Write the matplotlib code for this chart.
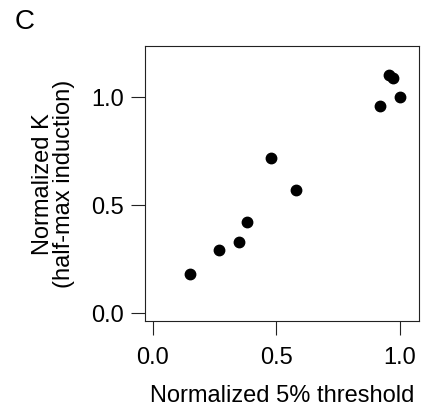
import matplotlib
matplotlib.use("Agg")
import matplotlib.pyplot as plt

# normalized 5% threshold vs normalized K
thresh = [0.150, 0.270, 0.351, 0.380, 0.480, 0.580, 0.920, 0.958, 0.972, 1.001]
norm_k = [0.179, 0.290, 0.330, 0.419, 0.718, 0.569, 0.958, 1.099, 1.088, 0.999]
ticks = [0.0, 0.5, 1.0]
tick_labels = ["0.0", "0.5", "1.0"]

plt.rcParams["font.family"] = ["Liberation Sans", "DejaVu Sans"]

fig = plt.figure(figsize=(4.3, 4.1), dpi=100)
ax = fig.add_axes([145 / 430, 1 - 321.7 / 410, (418.7 - 145) / 430, (321.7 - 46.7) / 410])

ax.plot(thresh, norm_k, "o", color="black", ms=7.5, mec="black")

ax.set_xlim(-0.031, 1.077)
ax.set_ylim(-0.036, 1.236)
ax.set_xticks(ticks)
ax.set_xticklabels(tick_labels)
ax.set_yticks(ticks)
ax.set_yticklabels(tick_labels)
ax.tick_params(direction="out", length=10, width=0.8, labelsize=17, color="#222222")
ax.tick_params(axis="x", pad=8)
ax.tick_params(axis="y", pad=5)
for s in ax.spines.values():
    s.set_linewidth(0.8)
    s.set_color("#222222")

ax.set_xlabel("Normalized 5% threshold", fontsize=17, labelpad=12)
ax.set_ylabel("Normalized K\n(half-max induction)", fontsize=17, labelpad=12, linespacing=0.95)

fig.text(15 / 430, 1 - 29 / 410, "C", fontsize=20, ha="left", va="baseline")

fig.savefig("out.png", dpi=100)
